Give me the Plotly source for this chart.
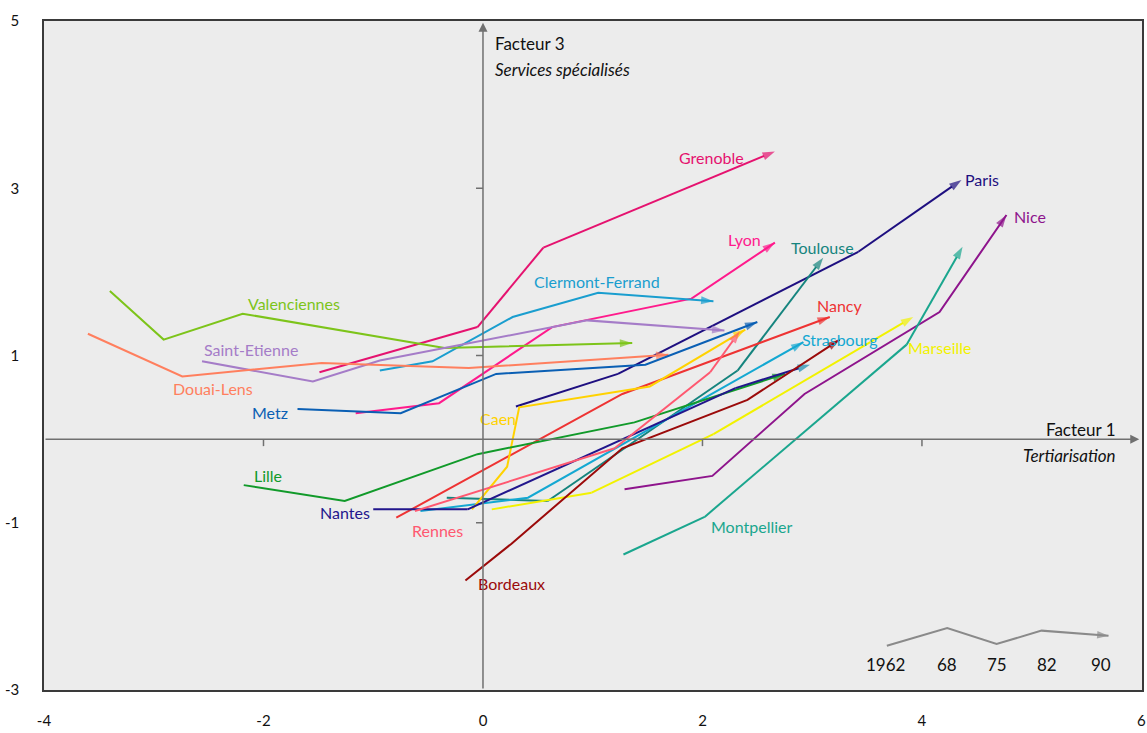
import plotly.graph_objects as go

# ---------------- data (Facteur 1, Facteur 3) per city, 1962 -> 1990 ----------------
cities = ["Grenoble", "Lyon", "Paris", "Nice", "Toulouse", "Montpellier",
          "Clermont-Ferrand", "Valenciennes", "Saint-Etienne", "Douai-Lens",
          "Metz", "Nancy", "Strasbourg", "Marseille", "Caen", "Lille",
          "Nantes", "Rennes", "Bordeaux"]

grenoble_x = [-1.49, -0.05, 0.55, 2.66]
grenoble_y = [0.80, 1.34, 2.29, 3.44]
lyon_x = [-1.16, -0.40, 0.63, 1.90, 2.66]
lyon_y = [0.31, 0.43, 1.34, 1.68, 2.35]
paris_x = [0.30, 1.23, 3.42, 4.36]
paris_y = [0.39, 0.78, 2.24, 3.10]
nice_x = [1.29, 2.09, 2.93, 4.16, 4.77]
nice_y = [-0.60, -0.44, 0.54, 1.52, 2.68]
toulouse_x = [-0.33, 0.59, 2.32, 3.10]
toulouse_y = [-0.70, -0.74, 0.82, 2.17]
montpellier_x = [1.28, 2.02, 3.86, 4.37]
montpellier_y = [-1.38, -0.93, 1.13, 2.30]
clermont_x = [-0.94, -0.46, 0.27, 1.05, 2.10]
clermont_y = [0.82, 0.93, 1.46, 1.75, 1.65]
valenciennes_x = [-3.40, -2.91, -2.19, -0.35, 1.36]
valenciennes_y = [1.77, 1.19, 1.50, 1.09, 1.15]
stetienne_x = [-2.56, -1.55, -0.94, 0.95, 2.20]
stetienne_y = [0.93, 0.69, 0.94, 1.42, 1.30]
douai_x = [-3.60, -2.74, -1.47, -0.13, 1.69]
douai_y = [1.26, 0.75, 0.91, 0.85, 1.01]
metz_x = [-1.69, -0.75, 0.12, 1.48, 2.50]
metz_y = [0.36, 0.31, 0.78, 0.89, 1.40]
nancy_x = [-0.79, 1.27, 3.16]
nancy_y = [-0.94, 0.54, 1.46]
strasbourg_x = [-0.57, 0.41, 2.92]
strasbourg_y = [-0.86, -0.70, 1.16]
marseille_x = [0.08, 0.99, 2.10, 3.92]
marseille_y = [-0.84, -0.64, 0.06, 1.46]
caen_x = [-0.10, 0.22, 0.33, 1.52, 2.39]
caen_y = [-0.84, -0.33, 0.38, 0.63, 1.31]
lille_x = [-2.18, -1.26, -0.05, 1.38, 2.75]
lille_y = [-0.55, -0.74, -0.18, 0.20, 0.78]
nantes_x = [-1.00, -0.14, 2.30, 2.98]
nantes_y = [-0.84, -0.84, 0.61, 0.89]
rennes_x = [-0.62, 1.20, 2.07, 2.34]
rennes_y = [-0.86, -0.11, 0.80, 1.29]
bordeaux_x = [-0.16, 0.26, 1.27, 2.41, 3.25]
bordeaux_y = [-1.69, -1.25, -0.11, 0.47, 1.19]

series_x = [grenoble_x, lyon_x, paris_x, nice_x, toulouse_x, montpellier_x,
            clermont_x, valenciennes_x, stetienne_x, douai_x, metz_x, nancy_x,
            strasbourg_x, marseille_x, caen_x, lille_x, nantes_x, rennes_x, bordeaux_x]
series_y = [grenoble_y, lyon_y, paris_y, nice_y, toulouse_y, montpellier_y,
            clermont_y, valenciennes_y, stetienne_y, douai_y, metz_y, nancy_y,
            strasbourg_y, marseille_y, caen_y, lille_y, nantes_y, rennes_y, bordeaux_y]

x_ticks = [-4, -2, 0, 2, 4, 6]
x_tick_text = ["-4", "-2", "0", "2", "4", "6"]
y_ticks = [-3, -1, 1, 3, 5]
y_tick_text = ["-3", "-1", "1", "3", "5"]
year_labels = ["1962", "68", "75", "82", "90"]

# ---------------- styles ----------------
colors = {
    "Grenoble": "#E5126F", "Lyon": "#FF1A8C", "Paris": "#1E0F80", "Nice": "#8E148C",
    "Toulouse": "#15847E", "Montpellier": "#1AA68E", "Clermont-Ferrand": "#1A9ECF",
    "Valenciennes": "#7DC41A", "Saint-Etienne": "#A57CC8", "Douai-Lens": "#FF7F5E",
    "Metz": "#0A5FB4", "Nancy": "#EE3333", "Strasbourg": "#14A8D2",
    "Marseille": "#F2F200", "Caen": "#FFD200", "Lille": "#119A2A",
    "Nantes": "#22168C", "Rennes": "#FF5870", "Bordeaux": "#9B0A0A",
}
arrow_colors = dict(colors)
arrow_colors["Nantes"] = "#1A8CB0"

label_pos = {
    "Grenoble": (2.08, 3.37), "Lyon": (2.38, 2.39), "Paris": (4.55, 3.10),
    "Nice": (4.98, 2.66), "Toulouse": (3.09, 2.29), "Montpellier": (2.45, -1.05),
    "Clermont-Ferrand": (1.04, 1.89), "Valenciennes": (-1.72, 1.62),
    "Saint-Etienne": (-2.11, 1.07), "Douai-Lens": (-2.46, 0.61), "Metz": (-1.94, 0.32),
    "Nancy": (3.25, 1.60), "Strasbourg": (3.25, 1.19), "Marseille": (4.16, 1.09),
    "Caen": (0.14, 0.25), "Lille": (-1.96, -0.43), "Nantes": (-1.26, -0.88),
    "Rennes": (-0.41, -1.09), "Bordeaux": (0.26, -1.73),
}

FONT = "Lato, 'Open Sans', sans-serif"
AXIS_GREY = "#707070"

fig = go.Figure()

for name, xs, ys in zip(cities, series_x, series_y):
    n = len(xs)
    fig.add_trace(go.Scatter(
        x=xs, y=ys, mode="lines+markers", name=name, showlegend=False,
        line=dict(color=colors[name], width=2),
        marker=dict(symbol=["circle"] * (n - 1) + ["arrow"],
                    size=[0] * (n - 1) + [13],
                    angleref="previous",
                    color=arrow_colors[name], line=dict(width=0)),
        hoverinfo="skip",
    ))
    lx, ly = label_pos[name]
    fig.add_annotation(x=lx, y=ly, xref="x", yref="y", text=name, showarrow=False,
                       font=dict(family=FONT, size=16, color=colors[name]))

# ---------------- key (years) ----------------
key_x = [3.68, 4.23, 4.68, 5.09, 5.70]
key_y = [-2.47, -2.26, -2.45, -2.29, -2.35]
fig.add_trace(go.Scatter(
    x=key_x, y=key_y, mode="lines+markers", showlegend=False, hoverinfo="skip",
    line=dict(color="#8A8A8A", width=2),
    marker=dict(symbol=["circle"] * 4 + ["arrow"], size=[0] * 4 + [12],
                angleref="previous", color="#8A8A8A", line=dict(width=0)),
))
key_label_x = [3.67, 4.23, 4.68, 5.14, 5.63]
for lab, kx in zip(year_labels, key_label_x):
    fig.add_annotation(x=kx, y=-2.69, xref="x", yref="y", text=lab, showarrow=False,
                       font=dict(family=FONT, size=17, color="#111"))

# ---------------- central axes with arrows ----------------
fig.add_annotation(x=0, y=4.98, ax=0, ay=-3, xref="x", yref="y", axref="x", ayref="y",
                   text="", showarrow=True, arrowhead=2, arrowsize=1.2, arrowwidth=1.5,
                   arrowcolor=AXIS_GREY)
fig.add_annotation(x=5.98, y=0, ax=-4, ay=0, xref="x", yref="y", axref="x", ayref="y",
                   text="", showarrow=True, arrowhead=2, arrowsize=1.2, arrowwidth=1.5,
                   arrowcolor=AXIS_GREY)
for yv in [3, 1, -1]:
    fig.add_shape(type="line", xref="x", yref="y", xsizemode="pixel", xanchor=0,
                  x0=-7, x1=0, y0=yv, y1=yv, line=dict(color=AXIS_GREY, width=1.5))
for xv in [-2, 2, 4]:
    fig.add_shape(type="line", xref="x", yref="y", ysizemode="pixel", yanchor=0,
                  x0=xv, x1=xv, y0=0, y1=-7, line=dict(color=AXIS_GREY, width=1.5))

# axis titles
fig.add_annotation(x=0.09, y=4.73, xref="x", yref="y", text="Facteur 3", showarrow=False,
                   xanchor="left", font=dict(family=FONT, size=17, color="#111"))
fig.add_annotation(x=0.09, y=4.42, xref="x", yref="y", text="<i>Services spécialisés</i>",
                   showarrow=False, xanchor="left", font=dict(family=FONT, size=17, color="#111"))
fig.add_annotation(x=5.79, y=0.12, xref="x", yref="y", text="Facteur 1", showarrow=False,
                   xanchor="right", font=dict(family=FONT, size=17, color="#111"))
fig.add_annotation(x=5.79, y=-0.19, xref="x", yref="y", text="<i>Tertiarisation</i>",
                   showarrow=False, xanchor="right", font=dict(family=FONT, size=17, color="#111"))

fig.update_layout(
    width=1147, height=733,
    margin=dict(l=44, r=5, t=21, b=43, autoexpand=False),
    paper_bgcolor="white", plot_bgcolor="#ECECEC",
    font=dict(family=FONT, size=15, color="#111"),
    xaxis=dict(range=[-4, 6.005], tickvals=x_ticks, ticktext=x_tick_text,
               showgrid=False, zeroline=False, automargin=False,
               showline=True, mirror=True, linecolor="#3A3A3A", linewidth=1.5,
               ticks="", ticklabelstandoff=16, tickfont=dict(size=15)),
    yaxis=dict(range=[-3, 5], tickvals=y_ticks, ticktext=y_tick_text,
               showgrid=False, zeroline=False, automargin=False,
               showline=True, mirror=True, linecolor="#3A3A3A", linewidth=1.5,
               ticks="", ticklabelstandoff=20, tickfont=dict(size=15)),
)

fig.write_html("out.html", config={"displayModeBar": False},
               post_script="document.body.style.margin='0px';document.body.style.overflow='hidden';")
